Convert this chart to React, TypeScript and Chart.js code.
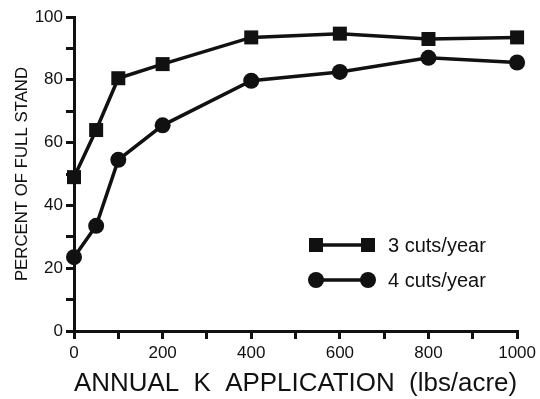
import React, { useEffect, useRef } from "react";
import { Chart, registerables } from "chart.js";

Chart.register(...registerables);

const kRates = [0, 50, 100, 200, 400, 600, 800, 1000];
const threeCuts = [49, 64, 80.5, 85, 93.5, 94.7, 93, 93.5];
const fourCuts = [23.5, 33.5, 54.5, 65.5, 79.7, 82.5, 87, 85.5];
const seriesNames = ["3 cuts/year", "4 cuts/year"];
const xTitle = "ANNUAL  K  APPLICATION  (lbs/acre)";
const yTitle = "PERCENT OF FULL STAND";

const FONT = "'Liberation Sans', Arial, Helvetica, sans-serif";

const legendPlugin = {
  id: "insideLegend",
  afterDatasetsDraw(chart: any) {
    const ctx = chart.ctx;
    const styles = ["rect", "circle"];
    const ys = [245, 280];
    ctx.save();
    for (let i = 0; i < 2; i++) {
      const y = ys[i];
      const x1 = 316;
      const x2 = 368;
      ctx.strokeStyle = "#111";
      ctx.lineWidth = 3.5;
      ctx.beginPath();
      ctx.moveTo(x1, y);
      ctx.lineTo(x2, y);
      ctx.stroke();
      ctx.fillStyle = "#111";
      for (const x of [x1, x2]) {
        if (styles[i] === "rect") {
          ctx.fillRect(x - 7, y - 7, 14, 14);
        } else {
          ctx.beginPath();
          ctx.arc(x, y, 8, 0, Math.PI * 2);
          ctx.fill();
        }
      }
      ctx.font = `20px ${FONT}`;
      ctx.textBaseline = "middle";
      ctx.textAlign = "left";
      ctx.fillText(seriesNames[i], 388, y + 1);
    }
    ctx.restore();
  },
};

export default function App() {
  const ref = useRef<HTMLCanvasElement | null>(null);
  useEffect(() => {
    if (!ref.current) return;
    const chart = new Chart(ref.current, {
      type: "line",
      data: {
        datasets: [
          {
            label: seriesNames[0],
            data: kRates.map((x, i) => ({ x, y: threeCuts[i] })),
            borderColor: "#111",
            backgroundColor: "#111",
            borderWidth: 3.5,
            pointStyle: "rect",
            pointRadius: 9.9,
            pointBorderWidth: 0,
            tension: 0,
            clip: false,
          },
          {
            label: seriesNames[1],
            data: kRates.map((x, i) => ({ x, y: fourCuts[i] })),
            borderColor: "#111",
            backgroundColor: "#111",
            borderWidth: 3.5,
            pointStyle: "circle",
            pointRadius: 8,
            pointBorderWidth: 0,
            tension: 0,
            clip: false,
          },
        ],
      },
      options: {
        animation: false,
        responsive: false,
        maintainAspectRatio: false,
        layout: { padding: { top: 17, right: 22, left: 0, bottom: 0 } },
        plugins: {
          legend: { display: false },
          tooltip: { enabled: false },
        },
        scales: {
          x: {
            type: "linear",
            min: 0,
            max: 1000,
            afterFit: (s: any) => {
              s.height = 68;
            },
            ticks: {
              stepSize: 100,
              autoSkip: false,
              maxRotation: 0,
              color: "#111",
              font: { family: FONT, size: 17 },
              padding: 4,
              callback: (v: any) => (Number(v) % 200 === 0 ? String(v) : ""),
            },
            grid: {
              drawOnChartArea: false,
              drawTicks: true,
              tickLength: 8,
              color: "#111",
              lineWidth: 3,
            },
            border: { display: true, color: "#111", width: 3 },
            title: {
              display: true,
              text: xTitle,
              color: "#111",
              font: { family: FONT, size: 26 },
              padding: { top: 2, bottom: 0 },
            },
          },
          y: {
            min: 0,
            max: 100,
            afterFit: (s: any) => {
              s.width = 74;
            },
            ticks: {
              stepSize: 10,
              autoSkip: false,
              color: "#111",
              font: { family: FONT, size: 17 },
              padding: 3,
              callback: (v: any) => (Number(v) % 20 === 0 ? String(v) : ""),
            },
            grid: {
              drawOnChartArea: false,
              drawTicks: true,
              tickLength: 8,
              color: "#111",
              lineWidth: 3,
            },
            border: { display: true, color: "#111", width: 3 },
            title: {
              display: true,
              text: yTitle,
              color: "#111",
              font: { family: FONT, size: 16.8 },
              padding: { top: 12, bottom: 0 },
            },
          },
        },
      },
      plugins: [legendPlugin],
    });
    return () => chart.destroy();
  }, []);
  return (
    <div style={{ position: "fixed", left: 0, top: 0, width: 540, height: 399, background: "#fff" }}>
      <canvas ref={ref} width={540} height={399} style={{ width: 540, height: 399 }} />
    </div>
  );
}
